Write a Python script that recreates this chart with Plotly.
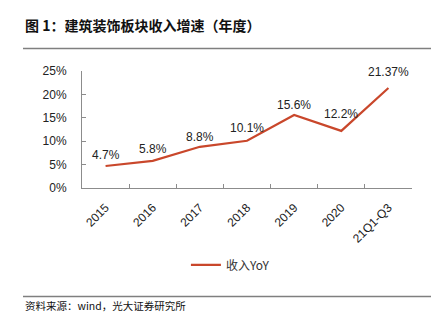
import plotly.graph_objects as go

categories = ["2015", "2016", "2017", "2018", "2019", "2020", "21Q1-Q3"]
revenue_yoy = [4.7, 5.8, 8.8, 10.1, 15.6, 12.2, 21.37]
value_labels = ["4.7%", "5.8%", "8.8%", "10.1%", "15.6%", "12.2%", "21.37%"]
y_ticks = [0, 5, 10, 15, 20, 25]
y_tick_labels = ["0%", "5%", "10%", "15%", "20%", "25%"]

# vertical lift (px) of each value label above its point
label_lift = [11, 12, 10, 13, 10, 17, 16]

LINE_COLOR = "#C9472B"
AXIS_COLOR = "#8C8C8C"
NUM_FONT = "Liberation Sans, Arial, sans-serif"
CJK_FONT = "Noto Sans CJK SC, sans-serif"

fig = go.Figure()
fig.add_trace(go.Scatter(
    x=categories,
    y=revenue_yoy,
    mode="lines",
    name="收入YoY",
    line=dict(color=LINE_COLOR, width=2.2),
    cliponaxis=False,
))

# Header/footer text and rules are positioned in pixel space of the 448x325 canvas
W, H = 448, 325
plot_left, plot_right = 82, W - 36
plot_top, plot_bottom = 71, H - 137
pw = plot_right - plot_left
ph = plot_bottom - plot_top


def px_x(x):
    return (x - plot_left) / pw


def px_y(y):
    return (plot_bottom - y) / ph


# value labels: category index used as x so numeric-looking names stay categorical
annotations = [
    dict(text=lbl, x=i, y=val, xref="x", yref="y",
         xanchor="center", yanchor="middle", yshift=lift, showarrow=False,
         font=dict(family=NUM_FONT, size=12, color="#222222"))
    for i, (val, lbl, lift) in enumerate(zip(revenue_yoy, value_labels, label_lift))
]
annotations += [
    dict(text="<b>图 1：建筑装饰板块收入增速（年度）</b>",
         xref="paper", yref="paper", x=px_x(23), y=px_y(25),
         xanchor="left", yanchor="middle", showarrow=False,
         font=dict(family=CJK_FONT, size=14, color="#111111")),
    dict(text="资料来源：wind，光大证券研究所",
         xref="paper", yref="paper", x=px_x(23), y=px_y(305),
         xanchor="left", yanchor="middle", showarrow=False,
         font=dict(family=CJK_FONT, size=10.5, color="#111111")),
]

shapes = [
    dict(type="line", xref="paper", yref="paper",
         x0=px_x(23), x1=px_x(431), y0=px_y(48.5), y1=px_y(48.5),
         line=dict(color="#7F7F7F", width=1.5)),
    dict(type="line", xref="paper", yref="paper",
         x0=px_x(23), x1=px_x(431), y0=px_y(296.5), y1=px_y(296.5),
         line=dict(color="#7F7F7F", width=1.5)),
]

fig.update_layout(
    width=W,
    height=H,
    margin=dict(l=plot_left, r=W - plot_right, t=plot_top, b=H - plot_bottom,
                autoexpand=False),
    paper_bgcolor="white",
    plot_bgcolor="white",
    showlegend=True,
    legend=dict(
        orientation="h",
        xref="container", yref="container",
        x=0.415, y=0.185, xanchor="left", yanchor="middle",
        font=dict(family=CJK_FONT, size=12, color="#333333"),
        bgcolor="rgba(0,0,0,0)",
    ),
    xaxis=dict(
        type="category",
        showgrid=False,
        showline=True, linecolor=AXIS_COLOR, linewidth=1,
        ticks="inside", ticklen=4, tickcolor=AXIS_COLOR,
        tickson="boundaries",
        tickangle=-45,
        tickfont=dict(family=NUM_FONT, size=12, color="#222222"),
        ticklabelstandoff=7,
        automargin=False,
        range=[-0.5, 6.5],
        fixedrange=True,
    ),
    yaxis=dict(
        range=[0, 25],
        tickvals=y_ticks,
        ticktext=y_tick_labels,
        showgrid=False,
        zeroline=False,
        showline=True, linecolor=AXIS_COLOR, linewidth=1,
        ticks="inside", ticklen=4, tickcolor=AXIS_COLOR,
        tickfont=dict(family=NUM_FONT, size=12, color="#222222"),
        ticklabelstandoff=12,
        automargin=False,
        fixedrange=True,
    ),
    annotations=annotations,
    shapes=shapes,
)

fig.write_html("out.html")
